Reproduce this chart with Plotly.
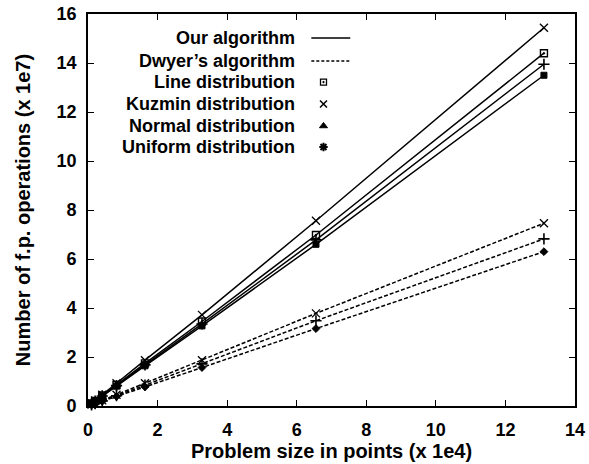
import plotly.graph_objects as go

# Problem sizes (x 1e4)
sizes = [0.1024, 0.2048, 0.4096, 0.8192, 1.6384, 3.2768, 6.5536, 13.1072]

# Number of f.p. operations (x 1e7)
our_kuzmin = [0.11, 0.23, 0.46, 0.93, 1.87, 3.72, 7.56, 15.44]
our_line = [0.10, 0.21, 0.43, 0.86, 1.74, 3.45, 6.98, 14.40]
our_normal = [0.10, 0.20, 0.41, 0.83, 1.68, 3.35, 6.78, 13.95]
our_uniform = [0.10, 0.20, 0.40, 0.81, 1.64, 3.27, 6.60, 13.50]
dwyer_kuzmin = [0.055, 0.11, 0.23, 0.46, 0.93, 1.87, 3.78, 7.46]
dwyer_normal = [0.05, 0.10, 0.21, 0.42, 0.85, 1.72, 3.48, 6.82]
dwyer_uniform = [0.045, 0.095, 0.19, 0.39, 0.78, 1.57, 3.16, 6.30]

legend_labels = ["Our algorithm", "Dwyer\u2019s algorithm", "Line distribution",
                 "Kuzmin distribution", "Normal distribution", "Uniform distribution"]

x_ticks = [0, 2, 4, 6, 8, 10, 12, 14]
y_ticks = [0, 2, 4, 6, 8, 10, 12, 14, 16]

FONT = "Liberation Sans, Arial, sans-serif"
BLACK = "black"

fig = go.Figure()

def add_series(y, dash, symbol, size, mline=1.2, filled=True):
    fig.add_trace(go.Scatter(
        x=sizes, y=y, mode="lines+markers",
        line=dict(color=BLACK, width=1.5, dash=dash),
        marker=dict(symbol=symbol, size=size, color=BLACK if filled else "white",
                    line=dict(color=BLACK, width=mline)),
        showlegend=False, cliponaxis=False))

add_series(our_kuzmin, "solid", "x-thin", 8, 1.3)
add_series(our_line, "solid", "square-open-dot", 7, 1.4)
add_series(our_normal, "solid", "cross-thin", 8, 1.6)
add_series(our_uniform, "solid", "square", 6, 1.0)
add_series(dwyer_kuzmin, "4px,2px", "x-thin", 8, 1.3)
add_series(dwyer_normal, "4px,2px", "cross-thin", 8, 1.6)
add_series(dwyer_uniform, "4px,2px", "diamond", 6, 1.0)

# Manual legend (text right-aligned, sample on the right)
leg_y = [15.02, 14.08, 13.22, 12.33, 11.43, 10.57]
leg_text_x = 6.02
leg_line_x = [6.42, 7.54]
leg_mark_x = 6.77

for lab, yy in zip(legend_labels, leg_y):
    fig.add_annotation(x=leg_text_x, y=yy, text="<b>" + lab + "</b>", showarrow=False,
                       xanchor="right", yanchor="middle",
                       font=dict(family=FONT, size=18, color=BLACK))

fig.add_trace(go.Scatter(x=leg_line_x, y=[leg_y[0]] * 2, mode="lines",
                         line=dict(color=BLACK, width=1.6), showlegend=False))
fig.add_trace(go.Scatter(x=leg_line_x, y=[leg_y[1]] * 2, mode="lines",
                         line=dict(color=BLACK, width=1.6, dash="3px,2px"), showlegend=False))
leg_symbols = ["square-open-dot", "x-thin", "triangle-up", "asterisk-open"]
leg_sizes = [6, 7, 7, 7]
leg_widths = [1.3, 1.5, 1.0, 2.0]
for sym, sz, lw, yy in zip(leg_symbols, leg_sizes, leg_widths, leg_y[2:]):
    fig.add_trace(go.Scatter(x=[leg_mark_x], y=[yy], mode="markers",
                             marker=dict(symbol=sym, size=sz, color=BLACK,
                                         line=dict(color=BLACK, width=lw)),
                             showlegend=False))

axis_common = dict(showline=True, linecolor=BLACK, linewidth=1.8, mirror="ticks",
                   ticks="inside", ticklen=6, tickwidth=1.2, tickcolor=BLACK,
                   showgrid=False, zeroline=False, automargin=False,
                   tickfont=dict(family=FONT, size=18, color=BLACK, weight="bold"))

fig.update_xaxes(range=[0, 14], tickvals=x_ticks, ticktext=[str(v) for v in x_ticks],
                 ticklabelstandoff=6,
                 title=dict(text="<b>Problem size in points (x 1e4)</b>", standoff=2,
                            font=dict(family=FONT, size=20, color=BLACK)),
                 **axis_common)
fig.update_yaxes(range=[0, 16], tickvals=y_ticks, ticktext=[str(v) for v in y_ticks],
                 ticklabelstandoff=6,
                 title=dict(text="<b>Number of f.p. operations (x 1e7)</b>", standoff=20,
                            font=dict(family=FONT, size=20, color=BLACK)),
                 **axis_common)

fig.update_layout(width=589, height=464, margin=dict(l=88, r=14, t=14, b=58),
                  paper_bgcolor="white", plot_bgcolor="white", showlegend=False)

fig.write_html("out.html")
